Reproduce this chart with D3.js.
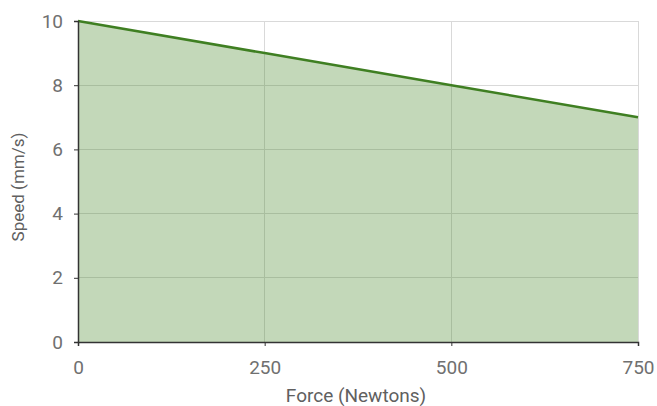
<!DOCTYPE html>
<html><head><meta charset="utf-8">
<script src="https://cdn.jsdelivr.net/npm/d3@7"></script>
<style>body{margin:0;background:#fff}svg{display:block}text{font-family:Roboto,"Liberation Sans",sans-serif}</style>
</head><body>
<svg id="c" width="657" height="406"></svg>
<script>
const forces = [0, 250, 500, 750];
const speeds = [10, 9, 8, 7];
const xTicks = [0, 250, 500, 750];
const yTicks = [0, 2, 4, 6, 8, 10];
const xTitle = "Force (Newtons)";
const yTitle = "Speed (mm/s)";

const svg = d3.select("#c");
const m = {l: 78, r: 19, t: 21, b: 64};
const W = 657, H = 406;
const x = d3.scaleLinear().domain([0, 750]).range([m.l, W - m.r]);
const y = d3.scaleLinear().domain([0, 10]).range([H - m.b, m.t]);

const g = svg.append("g");
g.selectAll(".gy").data(yTicks).join("line")
  .attr("x1", m.l).attr("x2", W - m.r)
  .attr("y1", d => y(d)).attr("y2", d => y(d))
  .attr("stroke", "#d9d9d9").attr("stroke-width", 1).attr("shape-rendering", "crispEdges");
g.selectAll(".gx").data(xTicks).join("line")
  .attr("y1", m.t).attr("y2", H - m.b)
  .attr("x1", d => x(d)).attr("x2", d => x(d))
  .attr("stroke", "#d9d9d9").attr("stroke-width", 1).attr("shape-rendering", "crispEdges");

const data = forces.map((f, i) => ({f, s: speeds[i]}));
g.append("path").datum(data)
  .attr("d", d3.area().x(d => x(d.f)).y0(y(0)).y1(d => y(d.s)))
  .attr("fill", "#4a8a2a").attr("fill-opacity", 0.33);
g.append("path").datum(data)
  .attr("d", d3.line().x(d => x(d.f)).y(d => y(d.s)))
  .attr("fill", "none").attr("stroke", "#3f7f22").attr("stroke-width", 2.5);

const xa = svg.append("g").attr("transform", `translate(0,${y(0)})`)
  .call(d3.axisBottom(x).tickValues(xTicks).tickSize(4).tickSizeOuter(4).tickPadding(15));
const ya = svg.append("g").attr("transform", `translate(${x(0)},0)`)
  .call(d3.axisLeft(y).tickValues(yTicks).tickSize(4).tickSizeOuter(4).tickPadding(11));
[xa, ya].forEach(a => {
  a.select(".domain").attr("stroke", "#333").attr("stroke-width", 1.5);
  a.selectAll(".tick line").attr("stroke", "#333");
  a.selectAll("text").attr("fill", "#707070").style("font-size", "19px").style("font-family", "Roboto");
});

svg.append("text").attr("x", 356).attr("y", 402)
  .attr("text-anchor", "middle").attr("fill", "#606060").style("font-size", "19px").text(xTitle);
svg.append("text").attr("transform", `translate(24,187) rotate(-90)`)
  .attr("text-anchor", "middle").attr("fill", "#606060").style("font-size", "17px").text(yTitle);
</script>
</body></html>
